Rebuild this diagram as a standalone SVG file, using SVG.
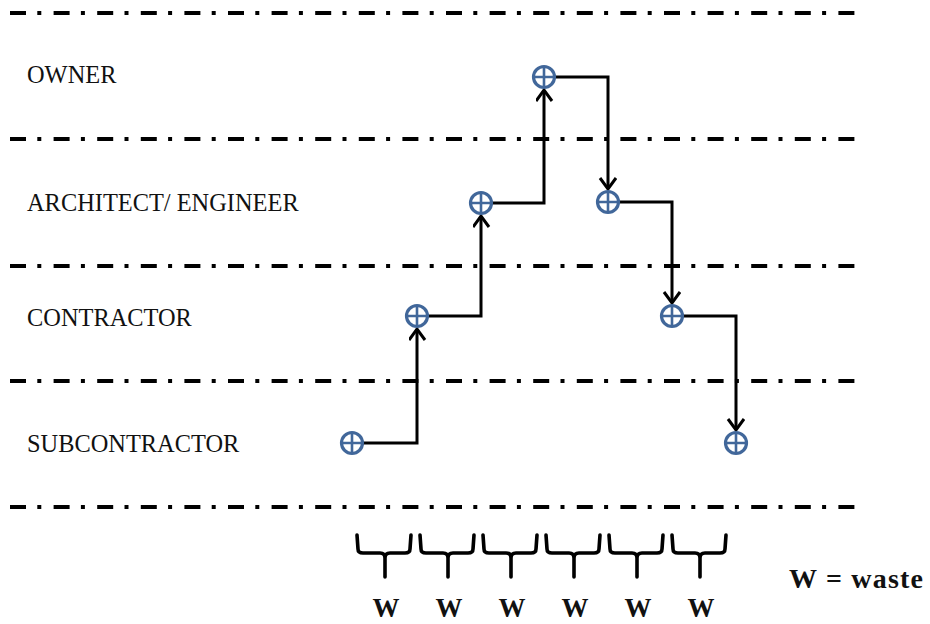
<svg xmlns="http://www.w3.org/2000/svg" width="930" height="624" viewBox="0 0 930 624">
<defs>
<style>
.sep{stroke:#000;stroke-width:4;stroke-dasharray:16 11.3 4 12.3;fill:none}
.lbl{font-family:"Liberation Serif","Times New Roman",serif;font-size:24.4px;fill:#111}
.w{font-family:"Liberation Serif","Times New Roman",serif;font-size:27px;font-weight:bold;fill:#111;text-anchor:middle}
.node circle{fill:#fff;stroke:#41679A;stroke-width:3.2}
.node path{stroke:#41679A;stroke-width:2.6;fill:none}
.conn{stroke:#000;stroke-width:3;fill:none;marker-end:url(#arr)}
.brace{stroke:#000;stroke-width:3.6;fill:none;stroke-linecap:round;stroke-linejoin:round}
</style>
<marker id="arr" markerUnits="userSpaceOnUse" markerWidth="20" markerHeight="20" refX="12" refY="8.5" orient="auto">
<path d="M1,0.5 L12,8.5 L1,16.5" fill="none" stroke="#000" stroke-width="3"/>
</marker>
</defs>
<rect width="930" height="624" fill="#fff"/>
<g id="separators">
<line class="sep" x1="10" y1="13" x2="856" y2="13"/>
<line class="sep" x1="10" y1="139" x2="856" y2="139"/>
<line class="sep" x1="10" y1="266" x2="856" y2="266"/>
<line class="sep" x1="10" y1="381" x2="856" y2="381"/>
<line class="sep" x1="10" y1="507" x2="856" y2="507"/>
</g>
<g id="labels">
<text class="lbl" x="27" y="83">OWNER</text>
<text class="lbl" x="27" y="211">ARCHITECT/ ENGINEER</text>
<text class="lbl" x="27" y="326">CONTRACTOR</text>
<text class="lbl" x="27" y="452">SUBCONTRACTOR</text>
</g>
<g id="connectors">
<path class="conn" d="M363,443 H417 V329"/>
<path class="conn" d="M429,316 H481 V216"/>
<path class="conn" d="M492,203 H544 V90"/>
<path class="conn" d="M556,77 H608 V189"/>
<path class="conn" d="M620,202 H672 V303"/>
<path class="conn" d="M684,316 H736 V430"/>
</g>
<g id="n-sub1" class="node"><circle cx="352" cy="443" r="10.5"/><path d="M341.5,443 H362.5 M352,432.5 V453.5"/></g>
<g id="n-con1" class="node"><circle cx="417" cy="316" r="10.5"/><path d="M406.5,316 H427.5 M417,305.5 V326.5"/></g>
<g id="n-arc1" class="node"><circle cx="481" cy="203" r="10.5"/><path d="M470.5,203 H491.5 M481,192.5 V213.5"/></g>
<g id="n-own" class="node"><circle cx="544" cy="77" r="10.5"/><path d="M533.5,77 H554.5 M544,66.5 V87.5"/></g>
<g id="n-arc2" class="node"><circle cx="608" cy="202" r="10.5"/><path d="M597.5,202 H618.5 M608,191.5 V212.5"/></g>
<g id="n-con2" class="node"><circle cx="672" cy="316" r="10.5"/><path d="M661.5,316 H682.5 M672,305.5 V326.5"/></g>
<g id="n-sub2" class="node"><circle cx="736" cy="443" r="10.5"/><path d="M725.5,443 H746.5 M736,432.5 V453.5"/></g>
<g id="braces">
<path class="brace" d="M357,535 L358,549 Q358,553 363,553 L380,553 Q385,553 385,558 L385,577 M385,558 Q385,553 390,553 L405,553 Q410,553 410,549 L411,535"/>
<path class="brace" d="M420,535 L421,549 Q421,553 426,553 L443,553 Q448,553 448,558 L448,577 M448,558 Q448,553 453,553 L468,553 Q473,553 473,549 L474,535"/>
<path class="brace" d="M483,535 L484,549 Q484,553 489,553 L506,553 Q511,553 511,558 L511,577 M511,558 Q511,553 516,553 L531,553 Q536,553 536,549 L537,535"/>
<path class="brace" d="M546,535 L547,549 Q547,553 552,553 L569,553 Q574,553 574,558 L574,577 M574,558 Q574,553 579,553 L594,553 Q599,553 599,549 L600,535"/>
<path class="brace" d="M609,535 L610,549 Q610,553 615,553 L632,553 Q637,553 637,558 L637,577 M637,558 Q637,553 642,553 L657,553 Q662,553 662,549 L663,535"/>
<path class="brace" d="M672,535 L673,549 Q673,553 678,553 L695,553 Q700,553 700,558 L700,577 M700,558 Q700,553 705,553 L720,553 Q725,553 725,549 L726,535"/>
</g>
<g id="w-labels">
<text class="w" x="386" y="617">W</text>
<text class="w" x="449" y="617">W</text>
<text class="w" x="512" y="617">W</text>
<text class="w" x="575" y="617">W</text>
<text class="w" x="638" y="617">W</text>
<text class="w" x="701" y="617">W</text>
</g>
<text id="legend" x="789" y="588" style="font-family:'Liberation Serif','Times New Roman',serif;font-size:28px;font-weight:bold;fill:#111" textLength="134" lengthAdjust="spacing">W = waste</text>
</svg>
